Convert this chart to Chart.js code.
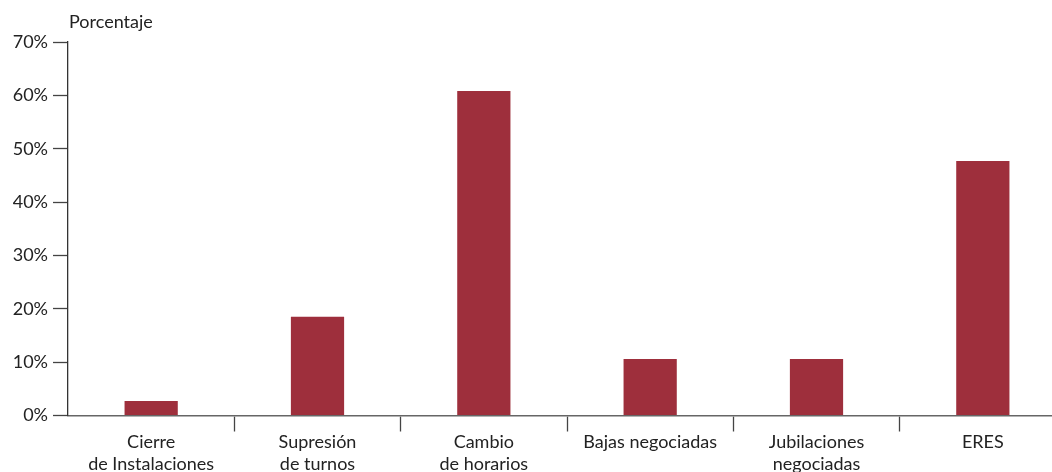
<!DOCTYPE html>
<html>
<head>
<meta charset="utf-8">
<script src="https://cdn.jsdelivr.net/npm/chart.js@4/dist/chart.umd.min.js"></script>
<style>
  html, body { margin: 0; padding: 0; background: #fff; overflow: hidden; }
  #wrap { width: 1052px; height: 472px; overflow: hidden; position: relative; }
  #box { width: 1066px; height: 472px; position: absolute; left: 0; top: 0; }
</style>
</head>
<body>
<div id="wrap"><div id="box"><canvas id="c"></canvas></div></div>
<script>
// Motivos y porcentaje de empresas
const categories = [
  ['Cierre', 'de Instalaciones'],
  ['Supresión', 'de turnos'],
  ['Cambio', 'de horarios'],
  'Bajas negociadas',
  ['Jubilaciones', 'negociadas'],
  'ERES'
];
const percentages = [2.7, 18.5, 60.8, 10.6, 10.6, 47.7];
const axisTitle = 'Porcentaje';
const yMin = 0, yMax = 70, yStep = 10;

const FONT = 'Lato, "Open Sans", sans-serif';

// Etiqueta del eje vertical, encima del extremo superior del eje
const axisTitlePlugin = {
  id: 'axisTitle',
  afterDraw(chart) {
    const { ctx, chartArea } = chart;
    ctx.save();
    ctx.font = '18px ' + FONT;
    ctx.fillStyle = '#222';
    ctx.textAlign = 'left';
    ctx.textBaseline = 'middle';
    ctx.fillText(axisTitle, chartArea.left + 1, 22);
    ctx.restore();
  }
};

new Chart(document.getElementById('c'), {
  type: 'bar',
  data: {
    labels: categories,
    datasets: [{
      data: percentages,
      backgroundColor: '#9e2f3c',
      borderWidth: 0,
      barPercentage: 0.32,
      categoryPercentage: 1
    }]
  },
  options: {
    responsive: true,
    maintainAspectRatio: false,
    animation: false,
    layout: { padding: { top: 42, left: 0, right: 0, bottom: 0 } },
    plugins: { legend: { display: false }, tooltip: { enabled: false } },
    scales: {
      x: {
        offset: true,
        afterFit(scale) { scale.height = 56.5; },
        border: { display: true, color: '#666', width: 1.6 },
        grid: {
          offset: true,
          drawOnChartArea: false,
          drawTicks: true,
          tickLength: 16,
          tickWidth: 1.3,
          tickColor: (c) => (c.index === undefined || c.index === 0) ? 'rgba(0,0,0,0)' : '#444'
        },
        ticks: {
          color: '#222',
          font: { family: FONT, size: 18, lineHeight: 1.22 },
          padding: 0,
          maxRotation: 0,
          autoSkip: false
        }
      },
      y: {
        min: yMin,
        max: yMax,
        afterFit(scale) { scale.width = 68; },
        border: { display: true, color: '#333', width: 1.3 },
        grid: {
          drawOnChartArea: false,
          drawTicks: true,
          tickLength: 15,
          tickWidth: 1.3,
          tickColor: '#444'
        },
        ticks: {
          stepSize: yStep,
          color: '#222',
          padding: 5,
          font: { family: FONT, size: 18 },
          callback: (v) => v + '%'
        }
      }
    }
  },
  plugins: [axisTitlePlugin]
});
</script>
</body>
</html>
